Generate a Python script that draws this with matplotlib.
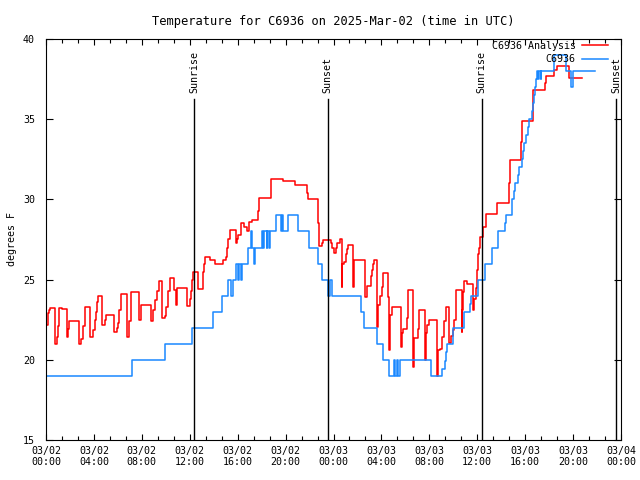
import matplotlib
matplotlib.use("Agg")
import matplotlib.pyplot as plt
from matplotlib.ticker import MultipleLocator

# hours since 03/02 00:00 UTC, degrees F (stepped series)
analysis_hours = [0.00, 0.17, 0.29, 0.33, 0.75, 0.89, 1.03, 1.09, 1.11, 1.36, 1.73, 1.86, 1.92,
                  2.75, 2.90, 3.11, 3.26, 3.67, 3.95, 4.09, 4.17, 4.23, 4.32, 4.70, 4.92, 4.98,
                  5.68, 5.90, 6.01, 6.12, 6.26, 6.79, 6.95, 7.12, 7.74, 7.93, 8.74, 8.96, 9.10,
                  9.24, 9.43, 9.71, 9.91, 10.02, 10.18, 10.33, 10.71, 10.85, 10.94, 10.96, 11.74,
                  12.02, 12.10, 12.19, 12.30, 12.71, 13.13, 13.21, 13.30, 13.71, 14.11, 14.80,
                  15.03, 15.08, 15.17, 15.36, 15.83, 15.92, 16.00, 16.28, 16.53, 16.80, 16.94,
                  17.17, 17.72, 17.80, 18.78, 19.76, 20.78, 21.81, 21.89, 22.73, 22.81, 23.01,
                  23.15, 23.76, 23.87, 24.04, 24.21, 24.27, 24.54, 24.68, 24.73, 24.90, 25.02,
                  25.10, 25.23, 25.65, 25.73, 26.63, 26.77, 27.10, 27.19, 27.32, 27.40, 27.65,
                  27.74, 27.88, 28.02, 28.16, 28.57, 28.66, 28.71, 28.86, 29.61, 29.72, 29.82,
                  30.11, 30.19, 30.24, 30.66, 30.74, 31.08, 31.16, 31.64, 31.72, 31.83, 32.00,
                  32.66, 32.75, 32.89, 33.08, 33.22, 33.39, 33.66, 33.78, 33.95, 34.06, 34.22,
                  34.70, 34.72, 34.78, 34.89, 35.12, 35.67, 35.75, 35.89, 36.00, 36.09, 36.17,
                  36.23, 36.50, 36.73, 37.67, 38.67, 38.73, 39.62, 39.71, 40.63, 40.68, 41.65,
                  41.74, 42.40, 42.68, 43.68, 44.72]
analysis_temp = [22.2, 22.9, 23.1, 23.2, 21.0, 21.4, 22.1, 22.6, 23.2, 23.15, 21.4, 21.9, 22.4,
                 21.0, 21.3, 22.1, 23.3, 21.4, 21.85, 22.5, 23.0, 23.6, 24.0, 22.2, 22.5, 22.8,
                 21.75, 22.0, 22.3, 23.1, 24.1, 21.4, 22.4, 24.2, 22.5, 23.4, 22.4, 23.1, 23.7,
                 24.3, 24.9, 22.6, 22.7, 23.3, 24.3, 25.1, 24.35, 23.4, 24.3, 24.5, 23.35,
                 23.8, 24.3, 25.0, 25.5, 24.4, 25.5, 26.0, 26.4, 26.2, 26.0, 26.2,
                 26.4, 27.0, 27.5, 28.1, 27.26, 27.5, 27.8, 28.5, 28.3, 28.0, 28.6,
                 28.7, 29.3, 30.1, 31.25, 31.13, 30.9, 30.4, 30.0, 28.5, 27.1, 27.26,
                 27.47, 27.3, 27.0, 26.64, 27.0, 27.3, 27.5, 24.56, 26.0, 26.1, 26.6,
                 26.9, 27.16, 24.56, 26.22, 23.93, 24.6, 25.2, 25.6, 26.0, 26.2, 22.06,
                 23.4, 24.0, 24.56, 25.43, 23.9, 20.6, 22.8, 23.31, 20.8, 21.65, 21.9,
                 22.6, 23.5, 24.35, 19.57, 21.34, 21.9, 23.1, 19.99, 21.65, 22.2, 22.5,
                 18.99, 20.6, 20.7, 21.4, 22.4, 23.27, 21.03, 21.5, 21.86, 22.5, 24.35,
                 21.75, 23.1, 24.2, 24.93, 24.73, 23.1, 23.8, 24.5, 25.6, 26.6, 27.0,
                 27.67, 28.3, 29.07, 29.76, 31.04, 32.46, 33.6, 34.89, 35.99, 36.82, 37.28,
                 37.7, 38.07, 38.34, 37.55, 37.55]

obs_hours = [0.00, 7.20, 9.93, 12.19, 13.94, 14.69, 15.19, 15.44, 15.61, 15.86, 16.03, 16.11,
             16.28, 16.36, 16.86, 17.11, 17.20, 17.36, 17.45, 18.00, 18.09, 18.17, 18.42, 18.47,
             18.64, 18.70, 19.20, 19.59, 19.70, 19.78, 20.18, 21.06, 21.93, 22.68, 23.01, 23.54,
             23.71, 23.87, 26.27, 26.57, 27.60, 28.16, 28.61, 29.07, 29.16, 29.27, 29.36, 29.55,
             32.14, 33.03, 33.31, 33.39, 33.50, 33.95, 34.89, 35.39, 35.48, 36.09, 36.64, 37.25,
             37.76, 38.31, 38.40, 38.87, 39.07, 39.15, 39.40, 39.51, 39.71, 39.79, 39.90, 40.04,
             40.23, 40.32, 40.54, 40.63, 40.73, 40.82, 40.88, 40.96, 41.07, 41.15, 41.28, 41.36,
             42.40, 43.41, 43.82, 44.03, 45.83]
obs_temp = [19, 20, 21, 22, 23, 24, 25, 24, 25, 26, 25, 26,
            25, 26, 27, 28, 27, 26, 27, 28, 27, 28, 27, 28,
            27, 28, 29, 28, 29, 28, 29, 28, 27, 26, 25, 24,
            25, 24, 23, 22, 21, 20, 19, 20, 19, 20, 19, 20,
            19, 19.4, 19.9, 20.5, 21, 22, 23, 23.5, 24, 25, 26, 27,
            28, 28.5, 29, 30, 30.5, 31, 31.5, 32, 32.5, 33, 33.5, 34,
            34.5, 35, 35.5, 36, 36.5, 37, 37.5, 38, 37.5, 38, 37.5, 38,
            39, 38, 37, 38, 38]

sun_hours = [12.35, 23.52, 36.37, 47.58]
sun_labels = ["Sunrise", "Sunset", "Sunrise", "Sunset"]

tick_hours = list(range(0, 49, 4))
tick_labels = ["03/02\n00:00", "03/02\n04:00", "03/02\n08:00", "03/02\n12:00", "03/02\n16:00",
               "03/02\n20:00", "03/03\n00:00", "03/03\n04:00", "03/03\n08:00", "03/03\n12:00",
               "03/03\n16:00", "03/03\n20:00", "03/04\n00:00"]


def main():
    plt.rcParams["font.family"] = ["DejaVu Sans Mono"]
    plt.rcParams["font.size"] = 7.2

    fig = plt.figure(figsize=(6.4, 4.8), dpi=100)
    ax = fig.add_axes([46 / 640, 40 / 480, 575 / 640, 401 / 480])

    ax.step(analysis_hours, analysis_temp, where="post", color="#ff0000", lw=1.1,
            label="C6936 Analysis")
    ax.step(obs_hours, obs_temp, where="post", color="#1a88ff", lw=1.1, label="C6936")

    for h, name in zip(sun_hours, sun_labels):
        ax.plot([h, h], [15, 36.25], color="black", lw=1.0)
        ax.text(h, 36.65, name, rotation=90, ha="center", va="bottom")

    ax.set_xlim(0, 48)
    ax.set_ylim(15, 40)
    ax.set_xticks(tick_hours)
    ax.set_xticklabels(tick_labels)
    ax.xaxis.set_minor_locator(MultipleLocator(4 / 3))
    ax.set_yticks(range(15, 41, 5))
    ax.tick_params(which="both", direction="in", top=True, right=True, width=0.8)
    ax.tick_params(which="major", length=4, pad=4)
    ax.tick_params(which="minor", length=3)
    ax.tick_params(axis="y", length=5, pad=8)
    for s in ax.spines.values():
        s.set_linewidth(0.8)

    ax.set_ylabel("degrees F", labelpad=4)
    ax.set_title("Temperature for C6936 on 2025-Mar-02 (time in UTC)", pad=10)

    ax.legend(loc="upper right", bbox_to_anchor=(0.98, 1.0), frameon=False, markerfirst=False,
              handlelength=2.6, handletextpad=0.6, labelspacing=0.35, borderpad=0.2,
              borderaxespad=0)

    fig.savefig("out.png", dpi=100)
    plt.close(fig)


if __name__ == "__main__":
    main()
